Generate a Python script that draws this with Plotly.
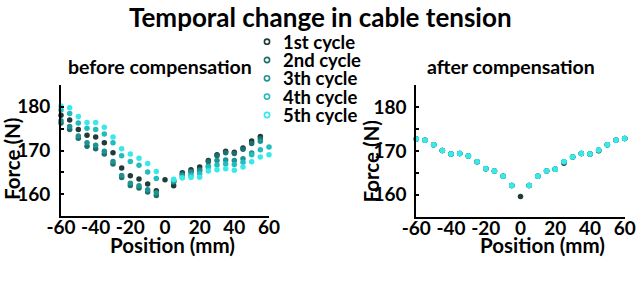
import plotly.graph_objects as go

positions = [-60, -55, -50, -45, -40, -35, -30, -25, -20, -15, -10, -5, 0,
             5, 10, 15, 20, 25, 30, 35, 40, 45, 50, 55, 60]
cycle_names = ["1st cycle", "2nd cycle", "3th cycle", "4th cycle", "5th cycle"]
N = None

# before compensation (left panel)
before_1st = [178.1, 177.0, 174.8, 173.5, 173.1, 171.8, 169.5, 166.0, 164.2, 163.5, 162.3, 160.8, 163.3,
              161.9, 164.9, 165.6, 166.2, 167.7, 169.0, 169.8, 169.6, 170.6, 172.2, 173.2, N]
before_2nd = [176.3, 174.8, 172.8, 171.0, 170.4, 169.2, 166.9, 163.8, 162.0, 161.4, 160.5, 159.7, N,
              162.8, 164.6, 165.2, 165.6, 167.4, 168.8, 169.5, 169.3, 170.3, 171.6, 172.7, N]
before_3rd = [176.8, 175.5, 173.3, 171.8, 171.2, 169.8, 167.5, 164.3, 162.5, 161.9, 161.0, 160.3, N,
              162.9, 164.3, 164.9, 165.3, 166.4, 167.7, 167.8, 167.7, 168.1, 169.4, 172.1, N]
before_4th = [179.3, 178.5, 176.3, 175.1, 174.8, 173.8, 171.8, 168.8, 167.5, 166.6, 165.1, 163.6, N,
              163.2, 163.9, 164.3, 164.7, 166.2, 166.7, 166.9, 166.8, 167.3, 169.0, 170.2, 170.8]
before_5th = [180.2, 179.8, 177.8, 176.4, 176.4, 175.3, 173.1, 170.4, 169.2, 168.2, 167.0, 165.2, N,
              163.4, 163.7, 163.8, 163.9, 165.3, 165.6, 165.8, 165.5, 166.2, 167.4, 168.5, 169.0]

# after compensation (right panel)
after_1st = [172.7, 172.4, 171.4, 170.1, 169.3, 169.4, 168.8, 167.5, 165.9, 165.4, 164.2, 162.1, 159.6,
             162.1, 164.2, 165.4, 165.8, 167.2, 168.6, 169.4, 169.3, 170.0, 171.4, 172.4, 172.8]
after_2nd = [172.7, 172.4, 171.4, 170.1, 169.3, 169.4, 168.8, 167.5, 165.9, 165.4, 164.2, 162.1, N,
             162.1, 164.2, 165.4, 165.8, 167.4, 168.6, 169.4, 169.3, 170.1, 171.4, 172.4, 172.8]
after_3rd = [172.7, 172.4, 171.4, 170.1, 169.3, 169.4, 168.8, 167.5, 165.9, 165.4, 164.2, 162.1, N,
             162.1, 164.2, 165.4, 165.8, 167.5, 168.6, 169.4, 169.3, 170.2, 171.4, 172.4, 172.8]
after_4th = [172.7, 172.4, 171.4, 170.1, 169.3, 169.4, 168.8, 167.5, 165.9, 165.4, 164.2, 162.1, N,
             162.1, 164.2, 165.4, 165.8, 167.5, 168.6, 169.4, 169.3, 170.2, 171.4, 172.4, 172.8]
after_5th = [172.7, 172.4, 171.4, 170.1, 169.3, 169.4, 168.8, 167.5, 165.9, 165.4, 164.2, 162.1, N,
             162.1, 164.2, 165.4, 165.8, 167.5, 168.6, 169.4, 169.3, 170.2, 171.4, 172.4, 172.8]

y_ticks = [160, 170, 180]
y_minor = [165, 175, 185]
x_ticks = [-60, -40, -20, 0, 20, 40, 60]
x_ticktext = ["-60", "-40", "-20", "0", "20", "40", "60"]

colors = ["#1f3b3a", "#1b6f6f", "#1f9292", "#22bcbc", "#3ae8ea"]
before = [before_1st, before_2nd, before_3rd, before_4th, before_5th]
after = [after_1st, after_2nd, after_3rd, after_4th, after_5th]

W, H = 640, 285
FONT = "Lato"


def px_x(v):
    return v / W


def px_y(v):
    return 1 - v / H


fig = go.Figure()

for i in range(5):
    fig.add_trace(go.Scatter(x=positions, y=before[i], mode="markers", xaxis="x", yaxis="y",
                             marker=dict(size=5.5, color=colors[i]), showlegend=False,
                             cliponaxis=False, name=cycle_names[i]))
for i in range(5):
    fig.add_trace(go.Scatter(x=positions, y=after[i], mode="markers", xaxis="x2", yaxis="y2",
                             marker=dict(size=5.5, color=colors[i]), showlegend=False,
                             cliponaxis=False, name=cycle_names[i]))

axis_common = dict(showline=True, linecolor="black", linewidth=2, showgrid=False, zeroline=False,
                   automargin=False,
                   tickfont=dict(family=FONT, size=19, color="black", weight="bold"))

fig.update_layout(
    width=W, height=H,
    margin=dict(l=0, r=0, t=0, b=0),
    paper_bgcolor="white", plot_bgcolor="white",
    font=dict(family=FONT, color="black"),
    showlegend=False,
    xaxis=dict(domain=[px_x(61), px_x(269)], range=[-60, 60], tickvals=x_ticks, ticktext=x_ticktext,
               anchor="y", ticks="", ticklen=0, ticklabelstandoff=-7, **axis_common),
    yaxis=dict(domain=[px_y(216), px_y(85)], range=[155, 185], tickvals=y_ticks,
               anchor="x", ticks="inside", ticklen=3, tickcolor="black", tickwidth=1.5,
               ticklabelstandoff=5,
               minor=dict(ticks="inside", tickvals=y_minor, ticklen=3, tickcolor="black", tickwidth=1.5),
               **axis_common),
    xaxis2=dict(domain=[px_x(416.3), px_x(624.7)], range=[-60, 60], tickvals=x_ticks, ticktext=x_ticktext,
                anchor="y2", ticks="", ticklen=0, ticklabelstandoff=-7, **axis_common),
    yaxis2=dict(domain=[px_y(216.7), px_y(85)], range=[155, 185], tickvals=y_ticks,
                anchor="x2", ticks="inside", ticklen=3, tickcolor="black", tickwidth=1.5,
                ticklabelstandoff=4,
                minor=dict(ticks="inside", tickvals=y_minor, ticklen=3, tickcolor="black", tickwidth=1.5),
                **axis_common),
)

annotations = [
    dict(text="Temporal change in cable tension", x=px_x(320), y=1.0, yanchor="top"),
    dict(text="before compensation", x=px_x(160), y=px_y(66)),
    dict(text="after compensation", x=px_x(511), y=px_y(66)),
    dict(text="Position (mm)", x=px_x(172), y=px_y(245)),
    dict(text="Position (mm)", x=px_x(542), y=px_y(245)),
    dict(text="Force (N)", x=px_x(12), y=px_y(159), textangle=-90),
    dict(text="Force (N)", x=px_x(370.5), y=px_y(162), textangle=-90),
]
sizes = [26, 19.5, 19.5, 20.5, 20.5, 20.5, 20.5]
for a, s in zip(annotations, sizes):
    a.setdefault("yanchor", "middle")
    a.update(xref="paper", yref="paper", showarrow=False, xanchor="center", borderpad=0,
             font=dict(family=FONT, size=s, weight="bold", color="black"))

# legend: open circle markers + labels
legend_x = 267
legend_y = [41.7, 60.0, 78.3, 96.6, 115.0]
r = 2.6
shapes = []
for i in range(5):
    shapes.append(dict(type="circle", xref="paper", yref="paper",
                       x0=px_x(legend_x - r), x1=px_x(legend_x + r),
                       y0=px_y(legend_y[i] + r), y1=px_y(legend_y[i] - r),
                       line=dict(color=colors[i], width=1.6), fillcolor="white"))
    annotations.append(dict(text=cycle_names[i], x=px_x(281), y=px_y(legend_y[i]), xref="paper",
                            yref="paper", showarrow=False, xanchor="left", yanchor="middle",
                            font=dict(family=FONT, size=18.5, weight="bold", color="black")))
fig.update_layout(annotations=annotations, shapes=shapes)

fig.write_html("out.html", post_script="document.body.style.margin='0';",
               config={"displayModeBar": False})
